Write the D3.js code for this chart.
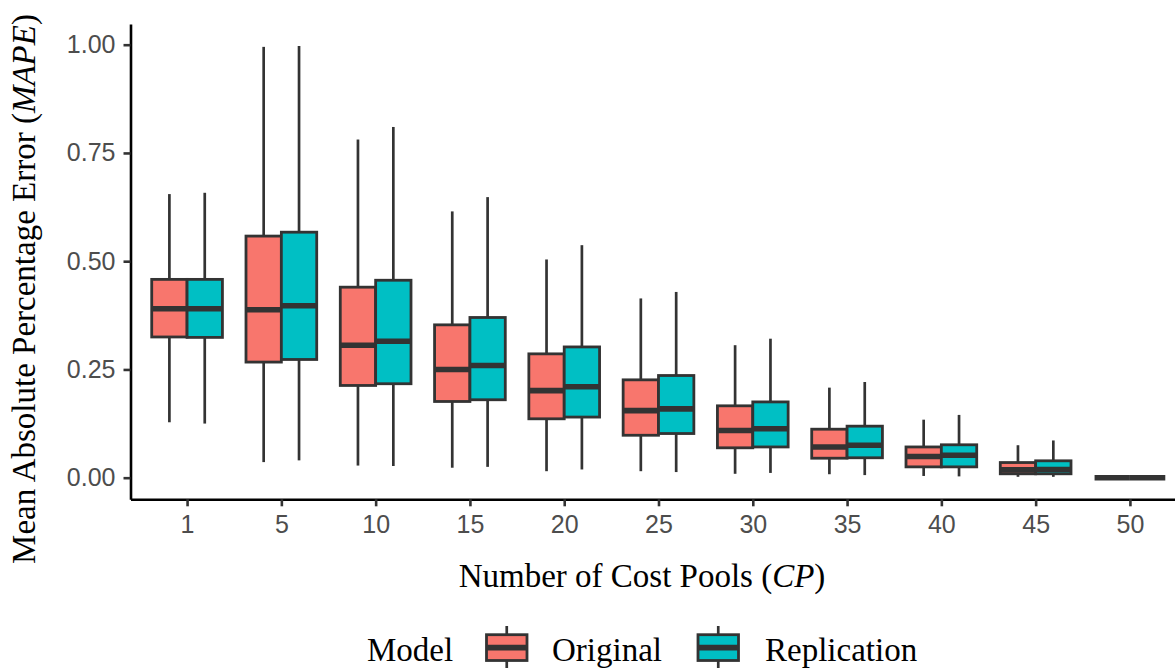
<!DOCTYPE html>
<html>
<head>
<meta charset="utf-8">
<script src="https://cdn.jsdelivr.net/npm/d3@7"></script>
<style>
  html, body { margin: 0; padding: 0; background: #ffffff; }
  svg { display: block; }
</style>
</head>
<body>
<svg id="chart" width="1175" height="668"></svg>
<script>
// Number of cost pools (x categories)
const categories = ["1", "5", "10", "15", "20", "25", "30", "35", "40", "45", "50"];

// Model groups
const models = ["Original", "Replication"];

// Box-plot statistics per category, Original model
const originalLow    = [0.128, 0.036, 0.028, 0.023, 0.015, 0.015, 0.009, 0.008, 0.004, 0.002, 0];
const originalQ1     = [0.325, 0.267, 0.213, 0.176, 0.136, 0.098, 0.069, 0.045, 0.025, 0.009, 0];
const originalMedian = [0.390, 0.388, 0.306, 0.250, 0.201, 0.155, 0.109, 0.071, 0.049, 0.018, 0];
const originalQ3     = [0.458, 0.558, 0.440, 0.353, 0.286, 0.226, 0.166, 0.112, 0.071, 0.035, 0];
const originalHigh   = [0.655, 0.995, 0.781, 0.615, 0.504, 0.414, 0.306, 0.208, 0.134, 0.075, 0];

// Box-plot statistics per category, Replication model
const replicationLow    = [0.125, 0.040, 0.027, 0.025, 0.019, 0.013, 0.011, 0.006, 0.003, 0.002, 0];
const replicationQ1     = [0.324, 0.273, 0.217, 0.180, 0.140, 0.102, 0.071, 0.046, 0.025, 0.009, 0];
const replicationMedian = [0.390, 0.397, 0.315, 0.259, 0.210, 0.159, 0.113, 0.075, 0.052, 0.019, 0];
const replicationQ3     = [0.458, 0.567, 0.456, 0.370, 0.302, 0.236, 0.175, 0.119, 0.076, 0.039, 0];
const replicationHigh   = [0.658, 0.997, 0.810, 0.648, 0.537, 0.429, 0.321, 0.221, 0.145, 0.086, 0];

// Y axis tick values
const yTicks = [0, 0.25, 0.5, 0.75, 1.0];

const colors = { Original: "#F8766D", Replication: "#00BFC4" };
const ink = "#333333";
const sansFont = "'Liberation Sans', Arial, sans-serif";
const serifFont = "'Liberation Serif', 'Times New Roman', serif";

// Assemble rows for drawing
const stats = {
  Original:    { low: originalLow, q1: originalQ1, med: originalMedian, q3: originalQ3, high: originalHigh },
  Replication: { low: replicationLow, q1: replicationQ1, med: replicationMedian, q3: replicationQ3, high: replicationHigh }
};
const rows = [];
categories.forEach((c, i) => {
  models.forEach(m => {
    const s = stats[m];
    rows.push({ cat: c, model: m, low: s.low[i], q1: s.q1[i], med: s.med[i], q3: s.q3[i], high: s.high[i] });
  });
});

const panel = { left: 130.5, right: 1186.5, top: 24, bottom: 499.3 };

const svg = d3.select("#chart");

const x = d3.scalePoint()
  .domain(categories)
  .range([panel.left, panel.right])
  .padding(0.6);

const y = d3.scaleLinear()
  .domain([-0.0499, 1.0478])
  .range([panel.bottom, panel.top]);

const step = x.step();
const dodgeWidth = 0.75 * step;
const boxW = dodgeWidth / models.length;
const xm = d3.scaleBand().domain(models).range([-dodgeWidth / 2, dodgeWidth / 2]);

// Boxes
const g = svg.append("g");
const box = g.selectAll("g.box")
  .data(rows)
  .join("g")
  .attr("class", "box")
  .attr("transform", d => `translate(${x(d.cat) + xm(d.model)},0)`);

// upper and lower whiskers
box.append("line")
  .attr("x1", boxW / 2).attr("x2", boxW / 2)
  .attr("y1", d => y(d.high)).attr("y2", d => y(d.q3))
  .attr("stroke", ink).attr("stroke-width", 2.7);
box.append("line")
  .attr("x1", boxW / 2).attr("x2", boxW / 2)
  .attr("y1", d => y(d.q1)).attr("y2", d => y(d.low))
  .attr("stroke", ink).attr("stroke-width", 2.7);

box.append("rect")
  .attr("x", 0)
  .attr("width", boxW)
  .attr("y", d => y(d.q3))
  .attr("height", d => Math.max(0, y(d.q1) - y(d.q3)))
  .attr("fill", d => colors[d.model])
  .attr("stroke", ink)
  .attr("stroke-width", 2.8);

box.append("line")
  .attr("x1", 0).attr("x2", boxW)
  .attr("y1", d => y(d.med)).attr("y2", d => y(d.med))
  .attr("stroke", ink).attr("stroke-width", 5.6);

// Axes
const yAxis = d3.axisLeft(y)
  .tickValues(yTicks)
  .tickFormat(d3.format(".2f"))
  .tickSize(7)
  .tickSizeOuter(0)
  .tickPadding(8);

const xAxis = d3.axisBottom(x)
  .tickSize(7)
  .tickSizeOuter(0)
  .tickPadding(9);

const gy = svg.append("g")
  .attr("transform", `translate(${panel.left},0)`)
  .call(yAxis);
const gx = svg.append("g")
  .attr("transform", `translate(0,${panel.bottom})`)
  .call(xAxis);

[gx, gy].forEach(a => {
  a.select(".domain").attr("stroke", "#000").attr("stroke-width", 2.6);
  a.selectAll(".tick line").attr("stroke", ink).attr("stroke-width", 2.6);
  a.selectAll(".tick text")
    .attr("fill", "#4D4D4D")
    .style("font-family", sansFont)
    .style("font-size", "25px");
});

// Axis titles
const xTitle = svg.append("text")
  .attr("x", 642)
  .attr("y", 586.5)
  .attr("text-anchor", "middle")
  .attr("fill", "#000")
  .style("font-family", serifFont)
  .style("font-size", "33px");
xTitle.append("tspan").text("Number of Cost Pools (");
xTitle.append("tspan").style("font-style", "italic").text("CP");
xTitle.append("tspan").text(")");

const yTitle = svg.append("text")
  .attr("transform", "translate(35,289) rotate(-90)")
  .attr("text-anchor", "middle")
  .attr("fill", "#000")
  .style("font-family", serifFont)
  .style("font-size", "33px");
yTitle.append("tspan").text("Mean Absolute Percentage Error (");
yTitle.append("tspan").style("font-style", "italic").text("MAPE");
yTitle.append("tspan").text(")");

// Legend (nudged up so the labels stay inside the page)
const legend = svg.append("g").attr("transform", "translate(0,-4)");
legend.append("text")
  .attr("x", 367)
  .attr("y", 665)
  .attr("fill", "#000")
  .style("font-family", serifFont)
  .style("font-size", "33px")
  .text("Model");

const legendItems = [
  { model: "Original", keyX: 486.5, textX: 552 },
  { model: "Replication", keyX: 698, textX: 765 }
];
const keyW = 40.5, keyTop = 638.7, keyBottom = 664.5, keyMid = 651.6;
const item = legend.selectAll("g.item")
  .data(legendItems)
  .join("g")
  .attr("class", "item");
item.append("line")
  .attr("x1", d => d.keyX + keyW / 2).attr("x2", d => d.keyX + keyW / 2)
  .attr("y1", 630).attr("y2", 675)
  .attr("stroke", ink).attr("stroke-width", 2.7);
item.append("rect")
  .attr("x", d => d.keyX).attr("y", keyTop)
  .attr("width", keyW).attr("height", keyBottom - keyTop)
  .attr("fill", d => colors[d.model])
  .attr("stroke", ink).attr("stroke-width", 2.8);
item.append("line")
  .attr("x1", d => d.keyX).attr("x2", d => d.keyX + keyW)
  .attr("y1", keyMid).attr("y2", keyMid)
  .attr("stroke", ink).attr("stroke-width", 5.6);
item.append("text")
  .attr("x", d => d.textX)
  .attr("y", 665)
  .attr("fill", "#000")
  .style("font-family", serifFont)
  .style("font-size", "33px")
  .text(d => d.model);
</script>
</body>
</html>
